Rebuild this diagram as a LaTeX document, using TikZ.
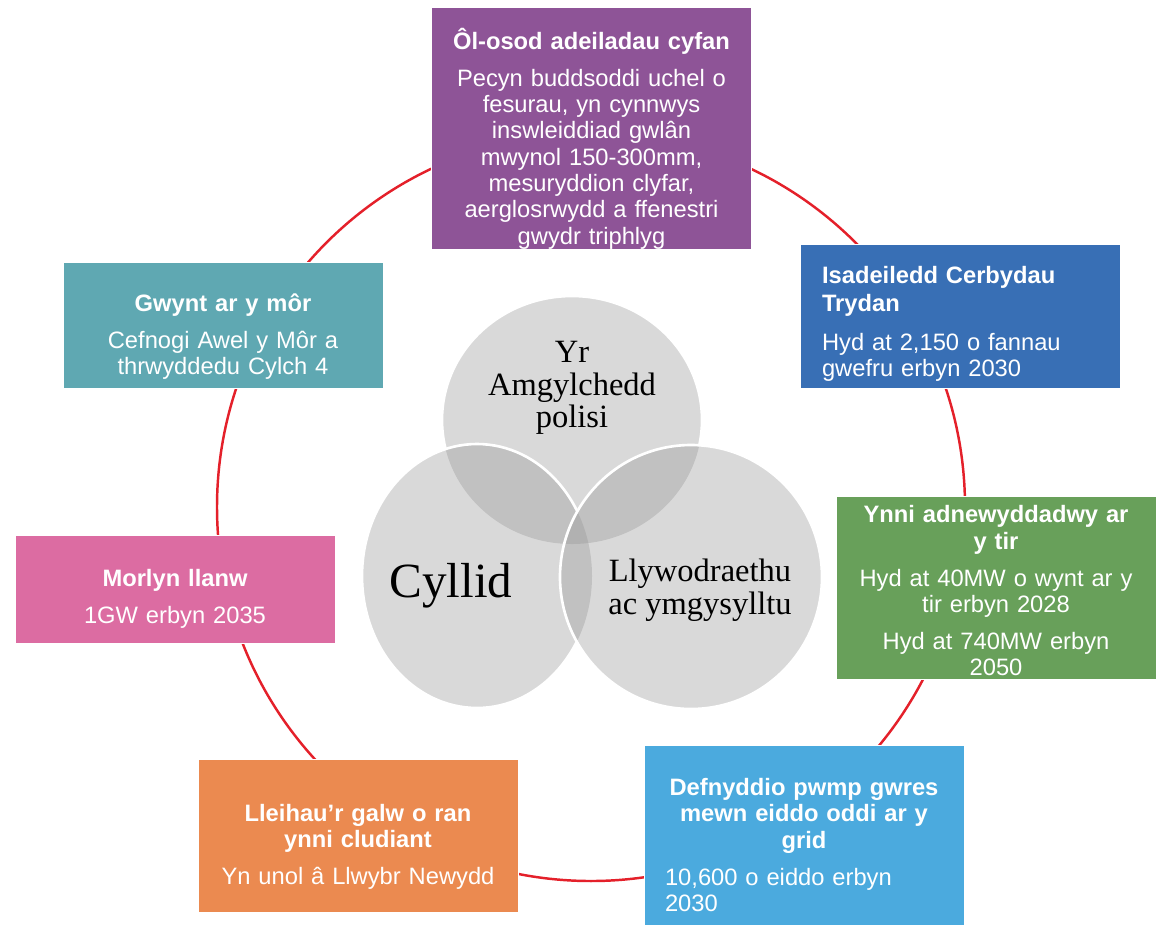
\documentclass[tikz,border=0pt]{standalone}
\usepackage{fontspec}
\setmainfont{Liberation Sans}
\newfontfamily\vennfont{Liberation Serif}
\usetikzlibrary{positioning}
\setlength{\parindent}{0pt}
\definecolor{ringred}{RGB}{228,32,42}
\definecolor{retrofit}{RGB}{142,84,151}
\definecolor{evblue}{RGB}{56,111,181}
\definecolor{onshore}{RGB}{104,160,90}
\definecolor{heatblue}{RGB}{75,170,222}
\definecolor{transport}{RGB}{235,138,80}
\definecolor{tidal}{RGB}{220,108,162}
\definecolor{offshore}{RGB}{95,168,178}
\definecolor{vennfill}{RGB}{150,150,150}

\begin{document}
\begin{tikzpicture}[x=0.02cm,y=-0.02cm,
  box/.style={draw=white,line width=.5pt,minimum width=6.4cm,inner sep=0pt,text=white,
    font=\fontsize{13.5}{15}\selectfont,align=center,text width=6cm},
  toprule/.style={execute at begin node={\rule{0pt}{#1}}},
  blob/.style={fill=vennfill,fill opacity=.36},
  rim/.style={draw=white,line width=1.5pt},
  venntext/.style={font=\vennfont\fontsize{18.5}{18.5}\selectfont,align=center}]
\useasboundingbox (0,0) rectangle (1158,924);
\coordinate (ringc) at (591,507);
\draw[ringred,line width=1.4pt] (ringc) circle[radius=374];

\path[blob] (572,420) ellipse[x radius=130,y radius=124];
\path[blob] (477,576) ellipse[x radius=115,y radius=132];
\path[blob] (691,577) ellipse[x radius=131,y radius=132];
\begin{scope}[even odd rule]
  \clip (-50,-50) rectangle (1250,1000) (691,577) ellipse[x radius=131,y radius=132];
  \begin{scope}[even odd rule]
    \clip (-50,-50) rectangle (1250,1000) (477,576) ellipse[x radius=115,y radius=132];
    \path[rim] (572,420) ellipse[x radius=130,y radius=124];
  \end{scope}
  \path[rim] (477,576) ellipse[x radius=115,y radius=132];
\end{scope}
\path[rim] (691,577) ellipse[x radius=131,y radius=132];
\node[venntext] (amgylchedd) at (572,388) {Yr\\Amgylchedd\\polisi};
\node[font=\vennfont\fontsize{28}{30}\selectfont] (cyllid) at (451,586) {Cyllid};
\node[venntext] (llywodraethu) at (700,590) {Llywodraethu\\ac ymgysylltu};

\node[box,fill=retrofit,minimum height=4.8cm,toprule=24pt] (olosod) at (591.5,128) {{\bfseries Ôl-osod adeiladau cyfan}\\[6pt]Pecyn buddsoddi uchel o\\fesurau, yn cynnwys\\inswleiddiad gwlân\\mwynol 150-300mm,\\mesuryddion clyfar,\\aerglosrwydd a ffenestri\\gwydr triphlyg};
\node[box,fill=evblue,minimum height=2.88cm,align=left,text width=5.52cm,toprule=19pt] (cerbydau) at (960,316) {{\bfseries Isadeiledd Cerbydau\\[1pt]Trydan}\\[7pt]Hyd at 2,150 o fannau\\gwefru erbyn 2030};
\node[box,fill=onshore,minimum height=3.66cm,toprule=13.5pt] (tir) at (996,587.5) {{\bfseries Ynni adnewyddadwy ar\\y tir}\\[6pt]Hyd at 40MW o wynt ar y\\tir erbyn 2028\\[6pt]Hyd at 740MW erbyn\\2050};
\node[box,fill=heatblue,minimum height=3.92cm,text width=5.56cm,toprule=12pt] (pwmp) at (804,843) {{\centering\bfseries Defnyddio pwmp gwres\\mewn eiddo oddi ar y\\grid\par}\vspace{6pt}{\raggedright 10,600 o eiddo erbyn\par 2030\par}};
\node[box,fill=transport,minimum height=3.06cm,toprule=22.5pt] (cludiant) at (358,835.5) {{\bfseries Lleihau’r galw o ran\\ynni cludiant}\\[6pt]Yn unol â Llwybr Newydd};
\node[box,fill=tidal,minimum height=2.16cm,toprule=21pt] (morlyn) at (175,589) {{\bfseries Morlyn llanw}\\[6pt]1GW erbyn 2035};
\node[box,fill=offshore,minimum height=2.52cm,toprule=23.5pt] (gwynt) at (223,325) {{\bfseries Gwynt ar y môr}\\[6pt]Cefnogi Awel y Môr a\\thrwyddedu Cylch 4};
\end{tikzpicture}
\end{document}
